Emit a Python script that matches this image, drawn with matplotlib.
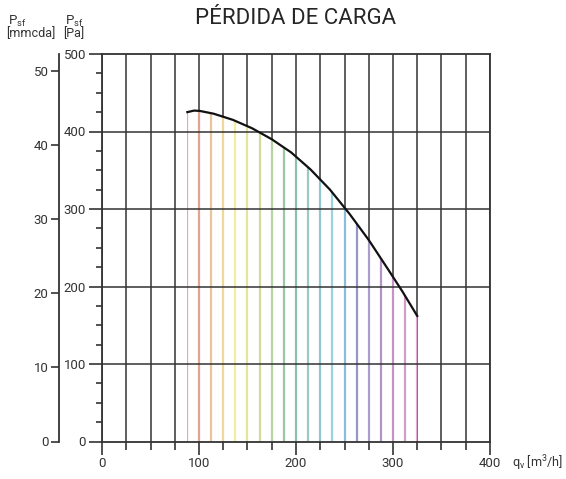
import numpy as np
import matplotlib
matplotlib.use("Agg")
import matplotlib.pyplot as plt
from matplotlib.patches import Polygon

plt.rcParams['font.family'] = ['Roboto', 'DejaVu Sans']

# curva de pérdida de carga (m3/h, Pa)
caudal = [88, 95, 101, 115, 135, 155, 175, 195, 215, 235, 255, 275, 295, 310, 325]
presion = [425, 427, 426.5, 423, 415, 404, 390, 373, 351, 325, 294, 260, 222, 193, 162]

# lineas de colores bajo la curva
lineas_q = [87.5, 100, 112.5, 125, 137.5, 150, 162.5, 175, 187.5, 200,
            212.5, 225, 237.5, 250, 262.5, 275, 287.5, 300, 312.5, 325]

pa_ticks = [0, 100, 200, 300, 400, 500]
mmcda_ticks = [0, 10, 20, 30, 40, 50]
q_ticks = [0, 100, 200, 300, 400]

ink = '#333333'
colores = ['#d87a92', '#e2a294', '#e9c49c', '#eed89c', '#f2ee9e', '#e6e49c',
           '#d2da9e', '#b6d4a4', '#98c8a6', '#8ec0b2', '#9ccac2', '#90c8cc',
           '#9ad2de', '#8cbcdc', '#9696c6', '#aa9ccc', '#b494c8', '#c494c8',
           '#d29cca', '#e2acd2']

fig = plt.figure(figsize=(5.66, 4.79), dpi=100)
ax = fig.add_axes([102 / 566, 37.5 / 479, 388 / 566, 387.5 / 479])
ax.set_xlim(0, 400)
ax.set_ylim(0, 500)

# rejilla vertical cada 25
ax.set_xticks(q_ticks)
ax.set_xticks(np.arange(0, 401, 25), minor=True)
ax.set_yticks(pa_ticks)
ax.set_yticks(np.arange(0, 501, 25), minor=True)
ax.set_axisbelow(True)
ax.grid(axis='x', which='both', color=ink, lw=1.1)

lc = ax.vlines(lineas_q, 0, 500, colors=colores, lw=1.6, zorder=1)
area = Polygon(np.column_stack([caudal + [caudal[-1], caudal[0]],
                                presion + [0, 0]]),
               closed=True, transform=ax.transData)
lc.set_clip_path(area)

for y in pa_ticks[1:-1]:
    ax.axhline(y, color=ink, lw=1.1, zorder=2)

ax.plot(caudal, presion, color='#111111', lw=1.6, zorder=3)

for s in ax.spines.values():
    s.set_color(ink)
    s.set_linewidth(1.3)

ax.tick_params(which='major', length=9.5, width=1.2, color=ink, labelcolor=ink,
               labelsize=9.5, pad=2)
ax.tick_params(which='minor', length=4.5, width=1.2, color=ink)
ax.tick_params(axis='x', which='minor', length=6)

# eje mmcda
ax2 = ax.twinx()
ax2.set_ylim(0, 500 / 9.57)
ax2.set_yticks(mmcda_ticks)
ax2.spines['left'].set_position(('outward', 31))
ax2.spines['left'].set_color(ink)
ax2.spines['left'].set_linewidth(1.3)
for k in ['right', 'top', 'bottom']:
    ax2.spines[k].set_visible(False)
ax2.yaxis.set_ticks_position('left')
ax2.yaxis.set_label_position('left')
ax2.tick_params(length=5.5, width=1.2, color=ink, labelcolor=ink, labelsize=9.5, pad=2)

fig.text(0.523, 0.962, 'PÉRDIDA DE CARGA', ha='center', va='center',
         fontsize=16, color='#262626')
fig.text(8 / 566, 1 - 21 / 479, 'P$_\\mathregular{sf}$', fontsize=9.5, color=ink, va='center')
fig.text(6 / 566, 1 - 34 / 479, '[mmcda]', fontsize=9, color=ink, va='center')
fig.text(65 / 566, 1 - 21 / 479, 'P$_\\mathregular{sf}$', fontsize=9.5, color=ink, va='center')
fig.text(63 / 566, 1 - 34 / 479, '[Pa]', fontsize=9, color=ink, va='center')
fig.text(512 / 566, 1 - 463 / 479, 'q$_\\mathregular{v}$ [m$^\\mathregular{3}$/h]',
         fontsize=9, color=ink, va='center')

fig.savefig('out.png', dpi=100, facecolor='white')
